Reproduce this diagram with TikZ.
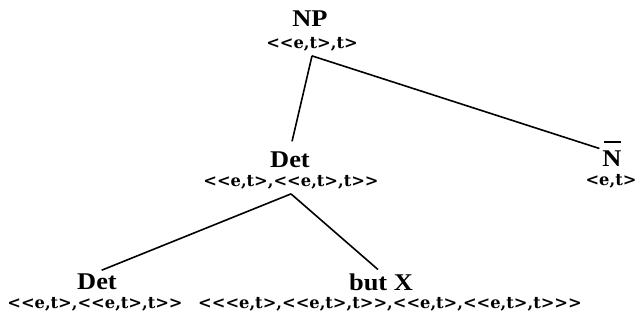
\documentclass[tikz,border=0pt]{standalone}
\usepackage{fontspec}
\newfontfamily\labfont{Liberation Serif}[FakeStretch=1.1]
\newfontfamily\typfont{DejaVu Serif}
\begin{document}
\begin{tikzpicture}[x=1pt,y=-1pt,
  lab/.style={font=\labfont\bfseries\fontsize{24}{24}\selectfont, anchor=base, inner sep=1pt},
  typ/.style={font=\typfont\bfseries\fontsize{16.3}{16.3}\selectfont, anchor=base, inner xsep=1pt, inner ysep=5pt},
  edge/.style={line width=1.6pt}]
\useasboundingbox (0,0) rectangle (637,322);
% labels
\node[lab] (np) at (310,26) {NP};
\node[typ] (npT) at (312,48) {<<e,t>,t>};
\node[lab] (det) at (290,167) {Det};
\node[typ] (detT) at (291,186) {<<e,t>,<<e,t>,t>>};
\node[lab] (nb) at (612,166) {\ooalign{N\cr\hidewidth\rule[23pt]{17pt}{2.2pt}\hidewidth\cr}};
\node[typ] (nbT) at (611,185) {<e,t>};
\node[lab] (d2) at (97,289) {Det};
\node[typ] (d2T) at (95,308) {<<e,t>,<<e,t>,t>>};
\node[lab] (bx) at (381,290) {but X};
\node[typ] (bxT) at (390,308) {<<<e,t>,<<e,t>,t>>,<<e,t>,<<e,t>,t>>>};
% edges
\draw[edge, shorten >=9pt] (npT.south) -- (det.north);
\draw[edge, shorten >=2pt] (npT.south) -- (nb.north west);
\draw[edge, shorten >=5pt] (detT.south) -- (d2.north);
\draw[edge, shorten >=4pt] (detT.south) -- (bx.north);
\end{tikzpicture}
\end{document}
